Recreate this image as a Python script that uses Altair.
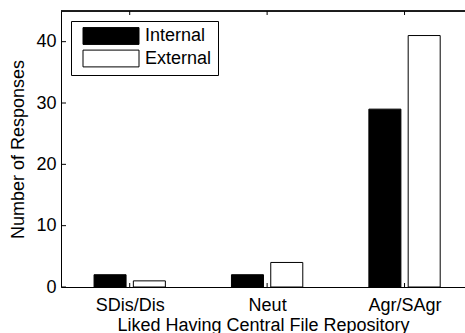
import json
import altair as alt
import pandas as pd

categories = ["SDis/Dis", "Neut", "Agr/SAgr"]
series = ["Internal", "External"]
internal = [2, 2, 29]
external = [1, 4, 41]
y_ticks = [0, 10, 20, 30, 40]
x_ticks = [1, 2, 3]

W, H = 404, 276
FONT = "Liberation Sans"

rows = []
for i, c in enumerate(categories):
    rows.append({"cat": c, "idx": i + 1, "series": "Internal", "sidx": 0, "value": internal[i]})
    rows.append({"cat": c, "idx": i + 1, "series": "External", "sidx": 1, "value": external[i]})
df = pd.DataFrame(rows)

xscale = alt.Scale(domain=[0.5, 3.44], nice=False, zero=False)
yscale = alt.Scale(domain=[0, 45], nice=False)

label_expr = json.dumps(categories) + "[datum.value - 1]"

x_axis = alt.Axis(
    values=x_ticks,
    labelExpr=label_expr,
    ticks=False,
    tickSize=0,
    labelPadding=23,
    labelBaseline="alphabetic",
    labelFontSize=18,
    labelFont=FONT,
    labelColor="black",
    labelFlush=False,
    labelOverlap=False,
    title="Liked Having Central File Repository",
    titleFontSize=18,
    titleFont=FONT,
    titleFontWeight="normal",
    titleColor="black",
    titleY=43,
    titleBaseline="alphabetic",
    grid=False,
    domainColor="black",
)
y_axis = alt.Axis(
    values=y_ticks,
    ticks=False,
    tickSize=0,
    labelPadding=5,
    labelFontSize=18,
    labelFont=FONT,
    labelColor="black",
    labelFlush=False,
    title="Number of Responses",
    titleFontSize=18,
    titleFont=FONT,
    titleFontWeight="normal",
    titleColor="black",
    titleX=-38,
    titleY=H / 2,
    titleBaseline="alphabetic",
    grid=False,
    domainColor="black",
)

bars = (
    alt.Chart(df)
    .transform_calculate(
        center="datum.idx + (datum.sidx == 0 ? -0.143 : 0.143)"
    )
    .transform_calculate(x0="datum.center - 0.1165", x1="datum.center + 0.1165")
    .mark_bar(stroke="black", strokeWidth=1)
    .encode(
        x=alt.X("x0:Q", scale=xscale, axis=x_axis),
        x2="x1:Q",
        y=alt.Y("value:Q", scale=yscale, axis=y_axis),
        y2=alt.datum(0),
        fill=alt.Fill(
            "series:N",
            scale=alt.Scale(domain=series, range=["#000000", "#ffffff"]),
            legend=alt.Legend(
                title=None,
                orient="none",
                legendX=10,
                legendY=10,
                symbolType="M-4,-1.2H4V1.2H-4Z",
                symbolSize=196,
                symbolStrokeColor="black",
                symbolStrokeWidth=1,
                symbolOffset=25,
                labelFontSize=18,
                labelFont=FONT,
                labelColor="black",
                labelOffset=25,
                rowPadding=0.5,
                padding=6,
                strokeColor="black",
                fillColor="white",
            ),
        ),
    )
)

ytick_df = pd.DataFrame({"v": y_ticks})
xtick_df = pd.DataFrame({"v": x_ticks})

ytick_rules = alt.Chart(ytick_df).mark_rule(color="black").encode(
    y=alt.Y("v:Q", scale=yscale),
    x=alt.value(0),
    x2=alt.value(5),
)
xtick_bottom = alt.Chart(xtick_df).mark_rule(color="black").encode(
    x=alt.X("v:Q", scale=xscale),
    y=alt.value(H),
    y2=alt.value(H - 4),
)
xtick_top = alt.Chart(xtick_df).mark_rule(color="black").encode(
    x=alt.X("v:Q", scale=xscale),
    y=alt.value(0),
    y2=alt.value(4),
)
top_border = alt.Chart(xtick_df).mark_rule(color="black").encode(
    x=alt.value(0),
    x2=alt.value(W),
    y=alt.value(0),
)

chart = (
    alt.layer(bars, ytick_rules, xtick_bottom, xtick_top, top_border)
    .properties(
        width=W,
        height=H,
        autosize=alt.AutoSizeParams(type="none"),
        padding={"left": 61, "top": 11, "right": 0, "bottom": 46},
    )
    .configure_view(stroke=None)
    .configure(background="white")
)

chart.save("out.html", embed_options={"renderer": "svg", "actions": False})
